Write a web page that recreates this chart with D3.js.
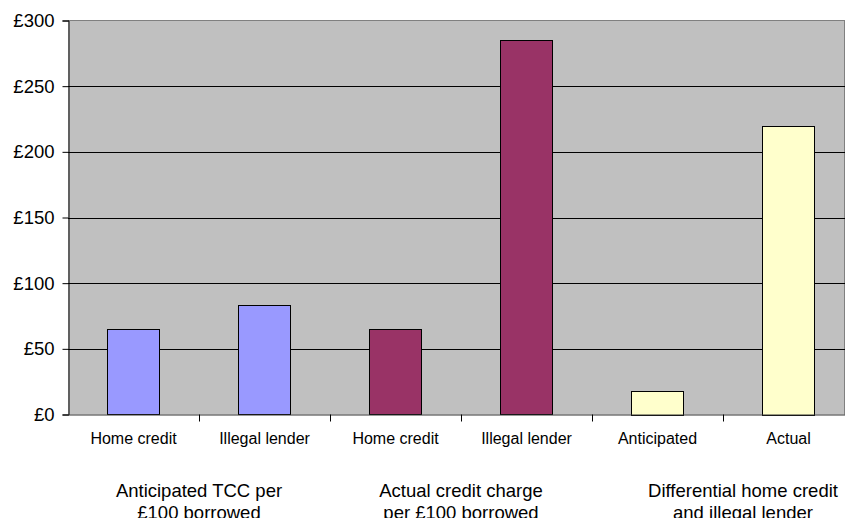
<!DOCTYPE html>
<html><head><meta charset="utf-8">
<script src="https://cdn.jsdelivr.net/npm/d3@7"></script>
<style>body{margin:0;background:#fff}svg{display:block;font-family:"Liberation Sans",Arial,sans-serif}</style>
</head><body><svg id="c" width="845" height="518"></svg>
<script>
const categories = ["Home credit","Illegal lender","Home credit","Illegal lender","Anticipated","Actual"];
const values = [65, 83, 65, 285, 18, 220];
const colors = ["#9999FF","#9999FF","#993366","#993366","#FFFFCC","#FFFFCC"];
const groups = [["Anticipated TCC per","£100 borrowed"],["Actual credit charge","per £100 borrowed"],["Differential home credit","and illegal lender"]];
const groupNudge = [0, 0, 20];
const yTicks = [0,50,100,150,200,250,300];

const svg = d3.select("#c");
const L = 68, R = 854, T = 20.5, B = 414.5;
const x = d3.scaleBand().domain(d3.range(categories.length)).range([L,R]).paddingInner(0.6).paddingOuter(0.3);
const y = d3.scaleLinear().domain([0,300]).range([B,T]);
const step = x.step();

svg.append("rect").attr("x",L).attr("y",T).attr("width",R-L).attr("height",B-T).attr("fill","#C0C0C0");
svg.append("line").attr("x1",L).attr("x2",R).attr("y1",T).attr("y2",T).attr("stroke","#808080").attr("stroke-width",1);
svg.append("line").attr("x1",844.5).attr("x2",844.5).attr("y1",T).attr("y2",B).attr("stroke","#808080");

// gridlines
svg.append("g").selectAll("line").data(yTicks.filter(d=>d>0&&d<300)).join("line")
  .attr("x1",L).attr("x2",R).attr("y1",d=>Math.round(y(d))+0.5).attr("y2",d=>Math.round(y(d))+0.5).attr("stroke","#000");

// bars
svg.append("g").selectAll("rect").data(values).join("rect")
  .attr("x",(d,i)=>Math.round(x(i))+0.5).attr("width",Math.round(x.bandwidth()))
  .attr("y",d=>Math.round(y(d))+0.5).attr("height",d=>Math.round(B-y(d)))
  .attr("fill",(d,i)=>colors[i]).attr("stroke","#000").attr("stroke-width",1);

// y axis
const ya = svg.append("g").attr("transform",`translate(${L+0.5},0)`).call(d3.axisLeft(y).tickValues(yTicks).tickSize(6).tickPadding(8).tickFormat(d=>"£"+d));
ya.select(".domain").attr("stroke","#000");
ya.selectAll("text").attr("font-size","18.5px").attr("fill","#000").attr("font-family","Liberation Sans, Arial, sans-serif");
ya.selectAll("line").attr("stroke","#000");

// x axis
svg.append("line").attr("x1",L).attr("x2",R).attr("y1",B+0.5).attr("y2",B+0.5).attr("stroke","#333");
const tickXs = d3.range(1,categories.length).map(i=>L+step*i);
svg.append("g").selectAll("line").data(tickXs).join("line")
  .attr("x1",d=>Math.round(d)+0.5).attr("x2",d=>Math.round(d)+0.5).attr("y1",B).attr("y2",B+7).attr("stroke","#000");

svg.append("g").selectAll("text").data(categories).join("text")
  .attr("x",(d,i)=>x(i)+x.bandwidth()/2).attr("y",444).attr("text-anchor","middle")
  .attr("font-size","16px").attr("fill","#000").text(d=>d);

const gl = svg.append("g").selectAll("text").data(groups).join("text")
  .attr("x",(d,i)=>L+step*(2*i+1)+groupNudge[i]).attr("y",497).attr("text-anchor","middle")
  .attr("font-size","18.5px").attr("fill","#000");
gl.selectAll("tspan").data(d=>d).join("tspan")
  .attr("x",function(){return this.parentNode.getAttribute("x");})
  .attr("dy",(d,i)=>i?22:0).text(d=>d);
</script></body></html>
